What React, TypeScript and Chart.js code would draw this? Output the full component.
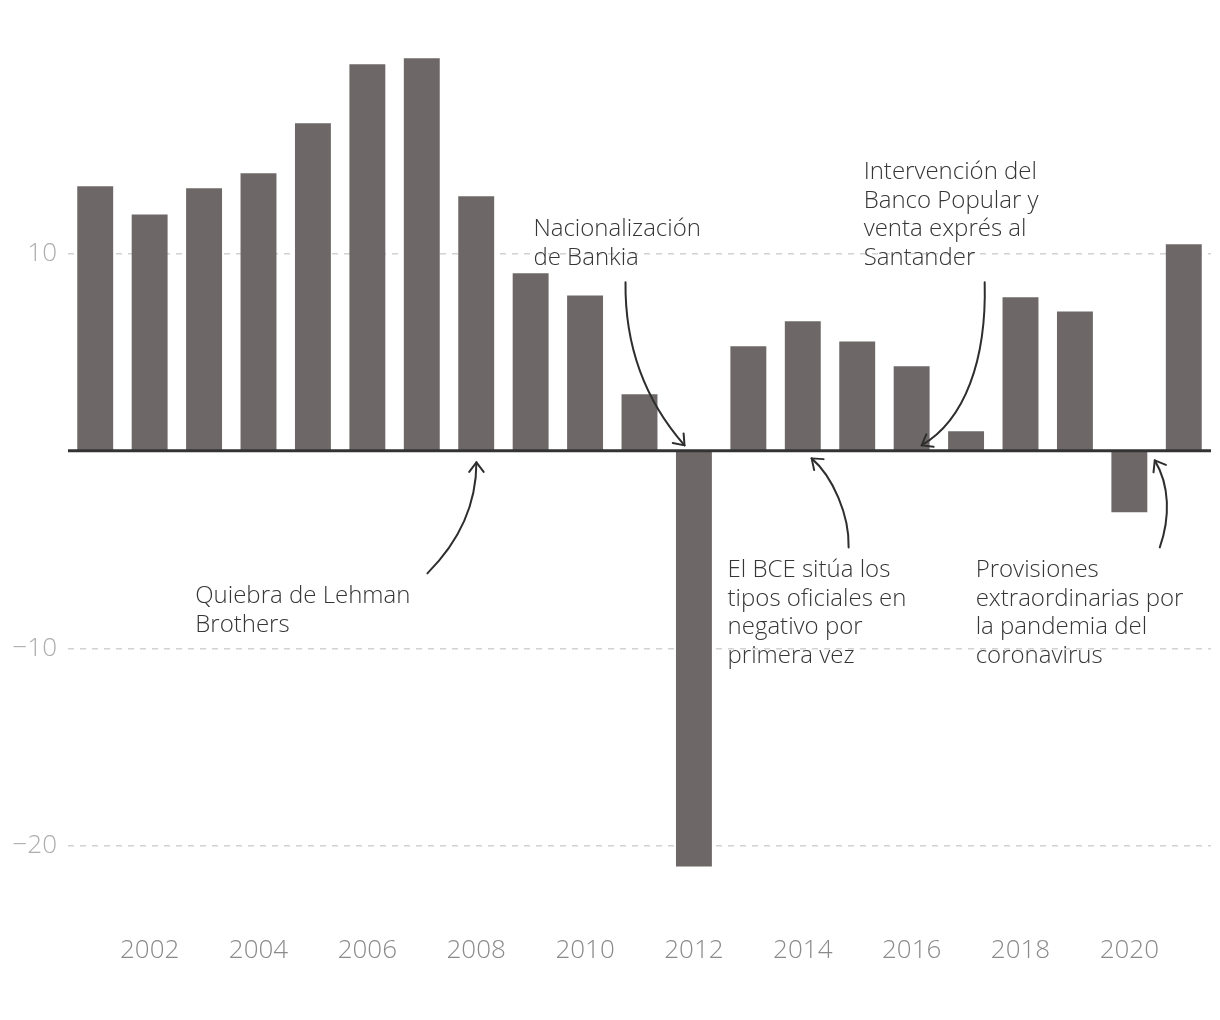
import React, { useEffect, useRef } from 'react';
import { Chart, registerables } from 'chart.js';

Chart.register(...registerables);

// ---- Data ----
const years = ['2001', '2002', '2003', '2004', '2005', '2006', '2007', '2008', '2009', '2010', '2011', '2012', '2013', '2014', '2015', '2016', '2017', '2018', '2019', '2020', '2021'];
const values = [13.39, 11.97, 13.29, 14.05, 16.58, 19.57, 19.87, 12.89, 8.99, 7.87, 2.86, -21.04, 5.29, 6.56, 5.54, 4.28, 0.99, 7.77, 7.06, -3.11, 10.46];
const xTickLabels = ['2002', '2004', '2006', '2008', '2010', '2012', '2014', '2016', '2018', '2020'];
const yTickValues = [-20, -10, 0, 10];
const yMin = -24;
const yMax = 21;

// Annotation texts (lines)
const annotationTexts = [
  ['Quiebra de Lehman', 'Brothers'],
  ['Nacionalización', 'de Bankia'],
  ['Intervención del', 'Banco Popular y', 'venta exprés al', 'Santander'],
  ['El BCE sitúa los', 'tipos oficiales en', 'negativo por', 'primera vez'],
  ['Provisiones', 'extraordinarias por', 'la pandemia del', 'coronavirus'],
];
// Text anchors in data space: [category index, value] (left edge, first line centre)
const annotationTextAnchors = [
  [1.838, -7.367],
  [8.051, 11.215],
  [14.118, 14.101],
  [11.618, -6.051],
  [16.176, -6.051],
];
// Arrow cubic curves in data space: start, cp1, cp2, end
const annotationArrows = [
  [[6.103, -6.203], [6.704, -4.547], [7.004, -2.673], [7.004, -0.582]],
  [[9.743, 8.532], [9.73, 5.291], [10.105, 2.542], [10.827, 0.278]],
  [[16.342, 8.532], [16.379, 4.582], [15.974, 1.544], [15.184, 0.278]],
  [[13.842, -4.886], [13.86, -3.266], [13.548, -1.291], [13.162, -0.38]],
  [[19.559, -4.886], [19.752, -3.367], [19.743, -1.747], [19.467, -0.481]],
];

const FONT = '"Open Sans", "Noto Sans", sans-serif';

const annotationPlugin = {
  id: 'annotationsAndZero',
  afterDatasetsDraw(chart: any) {
    const { ctx, chartArea, scales } = chart;
    const xs = scales.x;
    const ys = scales.y;
    ctx.save();
    // zero line
    const y0 = ys.getPixelForValue(0);
    ctx.strokeStyle = '#333333';
    ctx.lineWidth = 3;
    ctx.beginPath();
    ctx.moveTo(chartArea.left, y0);
    ctx.lineTo(chartArea.right, y0);
    ctx.stroke();

    // arrows
    ctx.strokeStyle = '#2e2e2e';
    ctx.lineWidth = 2;
    ctx.lineCap = 'round';
    ctx.lineJoin = 'round';
    annotationArrows.forEach((pts) => {
      const p = pts.map(([a, b]) => [xs.getPixelForValue(a), ys.getPixelForValue(b)]);
      ctx.beginPath();
      ctx.moveTo(p[0][0], p[0][1]);
      ctx.bezierCurveTo(p[1][0], p[1][1], p[2][0], p[2][1], p[3][0], p[3][1]);
      ctx.stroke();
      const ang = Math.atan2(p[3][1] - p[2][1], p[3][0] - p[2][0]);
      const len = 12;
      const spread = (37 * Math.PI) / 180;
      ctx.beginPath();
      ctx.moveTo(p[3][0] - len * Math.cos(ang - spread), p[3][1] - len * Math.sin(ang - spread));
      ctx.lineTo(p[3][0], p[3][1]);
      ctx.lineTo(p[3][0] - len * Math.cos(ang + spread), p[3][1] - len * Math.sin(ang + spread));
      ctx.stroke();
    });

    // texts
    ctx.fillStyle = '#363636';
    ctx.font = `300 24px ${FONT}`;
    ctx.textAlign = 'left';
    ctx.textBaseline = 'middle';
    annotationTexts.forEach((lines, i) => {
      const [a, b] = annotationTextAnchors[i];
      const px = xs.getPixelForValue(a);
      const py = ys.getPixelForValue(b);
      lines.forEach((line, j) => {
        ctx.fillText(line, px, py + j * 28.5);
      });
    });
    ctx.restore();
  },
};

function formatY(v: number) {
  if (v === 0) return '';
  return v < 0 ? '\u2212' + Math.abs(v) : String(v);
}

export default function App() {
  const canvasRef = useRef<HTMLCanvasElement>(null);

  useEffect(() => {
    let chart: Chart | null = null;
    let cancelled = false;
    const make = () => {
      if (cancelled || !canvasRef.current) return;
      chart = new Chart(canvasRef.current, {
        type: 'bar',
        data: {
          labels: years,
          datasets: [
            {
              data: values,
              backgroundColor: '#6d6867',
              borderWidth: 0,
              barPercentage: 0.66,
              categoryPercentage: 1,
            },
          ],
        },
        options: {
          animation: false,
          responsive: false,
          devicePixelRatio: 1,
          layout: { padding: { top: 28, right: 1, bottom: 0, left: 0 } },
          plugins: {
            legend: { display: false },
            tooltip: { enabled: false },
          },
          scales: {
            x: {
              offset: true,
              grid: { display: false, drawTicks: false },
              border: { display: false },
              afterFit: (s: any) => {
                s.height = 87;
              },
              ticks: {
                autoSkip: false,
                maxRotation: 0,
                minRotation: 0,
                padding: 10,
                color: '#8a8a8a',
                font: { family: FONT, size: 26, weight: '300' as any },
                callback: (_v: any, i: number) => (xTickLabels.includes(years[i]) ? years[i] : ''),
              },
            },
            y: {
              min: yMin,
              max: yMax,
              afterBuildTicks: (s: any) => {
                s.ticks = yTickValues.map((v) => ({ value: v }));
              },
              afterFit: (s: any) => {
                s.width = 60;
              },
              grid: {
                drawTicks: false,
                lineWidth: 1.5,
                color: (c: any) => (c.tick && c.tick.value === 0 ? 'rgba(0,0,0,0)' : '#d2d2d2'),
              },
              border: { display: false, dash: [6, 6] },
              ticks: {
                padding: 11,
                color: '#adadad',
                font: { family: FONT, size: 26, weight: '300' as any },
                callback: (v: any) => formatY(Number(v)),
              },
            },
          },
        },
        plugins: [annotationPlugin],
      });
    };
    const fontsReady = (document as any).fonts
      ? Promise.all([
          (document as any).fonts.load(`300 24px "Open Sans"`),
          (document as any).fonts.load(`300 26px "Open Sans"`),
        ]).catch(() => null)
      : Promise.resolve(null);
    fontsReady.then(make);
    return () => {
      cancelled = true;
      if (chart) chart.destroy();
    };
  }, []);

  return (
    <div style={{ width: 1204, height: 1004 }}>
      <canvas ref={canvasRef} width={1204} height={1004} style={{ display: 'block' }} />
    </div>
  );
}
